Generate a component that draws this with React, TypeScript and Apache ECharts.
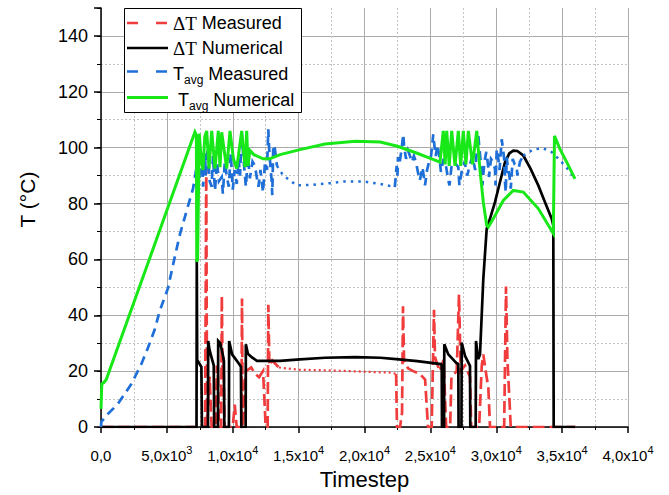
import React, { useEffect, useRef } from "react";
import * as echarts from "echarts";

// ---------- data ----------
const xTickLabels = ["0,0", "5,0x10^3", "1,0x10^4", "1,5x10^4", "2,0x10^4", "2,5x10^4", "3,0x10^4", "3,5x10^4", "4,0x10^4"];
const yTickLabels = ["0", "20", "40", "60", "80", "100", "120", "140"];
const legendNames = ["ΔT Measured", "ΔT Numerical", "Tavg Measured", "Tavg Numerical"];

// ΔT Measured (red, dashed)
const dTMeasSpikes1: number[][] = [
  [0, 0], [7900, 0], [7990, 93], [8050, 0], [8150, 12], [8250, 18], [8350, 5], [8400, 0], [8700, 0], [8800, 22], [8880, 18], [8950, 0],
  [9120, 0], [9170, 47], [9230, 20], [9300, 25], [9380, 0], [10000, 0], [10150, 8], [10300, 0], [10650, 0], [10702, 46], [10760, 0],
  [11000, 20], [11400, 21.3], [11700, 19], [12000, 17.8], [12300, 20], [12500, 0], [12650, 0], [12700, 43.8], [12780, 22], [13000, 23.8], [13500, 21.3],
];
const dTMeasFlat: number[][] = [
  [13500, 21.3], [15000, 20.5], [17000, 20.3], [19000, 20], [21000, 19.6], [22000, 19.5], [22400, 19],
];
const dTMeasSpikes2: number[][] = [
  [22400, 19], [22466, 0], [22700, 0], [22850, 5], [22922, 43.2], [23000, 24], [23300, 21], [23700, 20], [24200, 19], [24600, 17], [24819, 0],
  [25100, 0], [25275, 42], [25350, 25], [25700, 20], [26000, 24], [26200, 0], [26500, 0], [26600, 18], [27000, 20], [27172, 47.4], [27300, 20],
  [27628, 22], [28007, 18], [28100, 0], [28700, 0], [28900, 22], [29017, 26], [29200, 20], [29400, 14], [29525, 0], [30600, 0], [30740, 50.3],
  [30850, 24], [31050, 5], [31100, 0], [36000, 0],
];

// ΔT Numerical (black)
const dTNum: number[][] = [
  [0, 0], [7250, 0], [7270, 60], [7300, 24], [7620, 21.5], [7660, 0], [8120, 0], [8135, 30.8], [8240, 27.5], [8420, 24.4], [8560, 22], [8590, 0],
  [8880, 0], [8895, 30.8], [9050, 30], [9260, 25.5], [9330, 23.5], [9360, 0], [9710, 0], [9725, 30.8], [9950, 26], [10500, 22.5], [10620, 21.5], [10650, 0],
  [10980, 0], [10995, 29.6], [11150, 26.2], [11461, 24.9], [11840, 23.7], [13586, 23.7], [15104, 24.2], [17000, 24.8], [19300, 25], [21200, 24.8],
  [22400, 24.3], [24000, 23.6], [25800, 22.5], [25860, 22.3], [25880, 0], [26040, 0], [26057, 29.6], [26360, 26], [27000, 22.8], [27120, 22.5], [27140, 0],
  [27360, 0], [27377, 30.2], [27628, 25.5], [28007, 21.9], [28030, 0], [28440, 0], [28463, 30.8], [28560, 27], [28637, 24.3], [28766, 26], [28850, 35],
  [29017, 53], [29275, 71], [29525, 74.6], [29905, 80.5], [30284, 87.7], [30664, 94.8], [31000, 98], [31294, 98.9], [31600, 98.8], [32053, 97.2],
  [32600, 92.5], [33191, 86.5], [33700, 80.5], [34208, 74.6], [34330, 72.2], [34360, 0], [36000, 0],
];

// Tavg Measured (blue)
const tAvgMeasNoise1: number[][] = [
  [0, 0], [23, 1.8], [531, 4.7], [1290, 8.3], [2300, 15.4], [3059, 22.5], [3567, 28.4], [4076, 34.9], [4455, 41.5], [5085, 49.7], [5465, 58],
  [5974, 68.7], [6475, 77], [6983, 85.3], [7233, 92.4], [7300, 96], [7450, 88], [7600, 99], [7750, 86], [7894, 98], [7950, 90], [8100, 100],
  [8250, 88], [8402, 86], [8500, 97], [8650, 84.5], [8800, 95], [8950, 88], [9161, 89.5], [9250, 83.5], [9400, 95], [9541, 90], [9700, 86],
  [9850, 98], [10000, 85], [10150, 92], [10300, 87], [10450, 96], [10550, 90], [10679, 105.5], [10760, 99.5], [10850, 94], [11000, 86],
  [11150, 97], [11300, 89], [11500, 95], [11688, 93.5], [11800, 90], [11950, 86], [12100, 92], [12300, 84], [12450, 95], [12600, 92],
  [12698, 106.6], [12750, 100.7], [12850, 94], [12956, 88], [13000, 83], [13077, 101], [13200, 99.5], [13358, 93.5],
];
const tAvgMeasFlat1: number[][] = [
  [13358, 93.5], [13836, 90], [14345, 88.3], [14853, 86.5], [16100, 86.7], [17400, 87.3], [18400, 87.9], [19900, 87.9], [21200, 87], [22300, 85.9],
];
const tAvgMeasNoise2: number[][] = [
  [22300, 85.9], [22443, 93.5], [22500, 90], [22542, 96.6], [22650, 94], [22800, 99], [22944, 104.8], [23000, 100.7], [23150, 96], [23300, 99],
  [23453, 97], [23600, 94.8], [23750, 97], [23900, 95], [24083, 90.6], [24200, 88.3], [24400, 93], [24592, 86.5], [24750, 92], [24900, 95],
  [25050, 97], [25221, 104.8], [25280, 101.9], [25400, 97], [25550, 101], [25730, 94.8], [25800, 91.3], [26000, 96], [26200, 93], [26360, 88.3],
  [26450, 86.5], [26600, 93], [26800, 95], [27120, 93], [27200, 86.5], [27400, 92], [27600, 95], [27800, 90], [28000, 94], [28200, 97],
  [28400, 92], [28637, 104.8], [28700, 100.7], [28800, 96], [28895, 91.3], [28950, 86.5], [29100, 95], [29250, 98.5], [29396, 93], [29450, 89.5],
  [29600, 96], [29750, 95], [29905, 92.4], [29950, 86.5], [30034, 99.5], [30100, 98.4], [30250, 92], [30413, 103], [30480, 100.7], [30600, 96],
  [30664, 87.7], [30720, 84], [30793, 96.6], [30850, 94.2], [31044, 88.3], [31100, 85.3], [31250, 96], [31400, 94], [31553, 93.5], [31600, 90],
  [31802, 95], [32053, 97.1],
];
const tAvgMeasFlat2: number[][] = [
  [32053, 97.1], [32790, 99.3], [33548, 99.8], [34208, 98.4], [34839, 95.5], [35400, 92.5], [35977, 88.8],
];

// Tavg Numerical (green)
const tAvgNum: number[][] = [
  [0, 6.5], [60, 15.4], [230, 16], [400, 17], [7130, 105.6], [7240, 104.5], [7265, 59.2], [7330, 60], [7460, 105], [7600, 96], [7742, 92],
  [7880, 104], [8023, 106], [8197, 92.5], [8402, 106], [8653, 92.5], [8903, 106], [9032, 93], [9161, 105.5], [9541, 92.5], [9791, 106],
  [10050, 96], [10300, 92.5], [10679, 106], [10930, 93], [11059, 106], [11157, 93.5], [11300, 99], [11600, 97.5], [12300, 96], [12800, 96],
  [13600, 97.5], [15100, 99.3], [17000, 101.3], [19300, 102.3], [21200, 102], [22500, 100.5], [24000, 98], [25000, 96.2], [25730, 94.8],
  [25980, 106], [26120, 94], [26240, 106], [26430, 93.5], [26620, 106], [26870, 93.5], [27120, 106], [27300, 93.5], [27500, 106], [27700, 94],
  [27880, 106], [28200, 94], [28520, 106], [28766, 92], [29017, 80.5], [29275, 72.2], [29400, 71.6], [29776, 74.6], [30535, 81.1], [31294, 84.7],
  [32053, 84.1], [33191, 78.2], [34330, 69.3], [34420, 104.2], [34839, 99.5], [35348, 94.8], [35977, 88.8],
];

// ---------- styling ----------
const FONT = "'Liberation Sans', Arial, sans-serif";
const SERIF = "'Liberation Serif', 'Times New Roman', serif";
const RED = "#f03c3c";
const BLACK = "#000000";
const BLUE = "#1f6fd8";
const GREEN = "#18e818";
const GRID_MAJOR = "#ababab";
const GRID_MINOR = "#c4c4c4";

function line(name: string, data: number[][], color: string, width: number, dash: any, z: number) {
  return {
    type: "line",
    name,
    data,
    yAxisIndex: 1,
    showSymbol: false,
    symbol: "none",
    silent: true,
    z,
    lineStyle: { color, width, type: dash, cap: "butt", join: "miter" },
  };
}

export default function App() {
  const ref = useRef<HTMLDivElement>(null);
  useEffect(() => {
    if (!ref.current) return;
    const chart = echarts.init(ref.current, null, { renderer: "svg" });
    const legendY = [23, 48, 71.5, 97.5];
    const legendGraphic: any[] = [
      {
        type: "rect",
        shape: { x: 124.5, y: 8.5, width: 177, height: 104 },
        style: { fill: "#fff", stroke: "#000", lineWidth: 1 },
        z: 100,
      },
      { type: "line", shape: { x1: 127, y1: legendY[0], x2: 168, y2: legendY[0] }, style: { stroke: RED, lineWidth: 2.7, lineDash: [11, 18] }, z: 101 },
      { type: "line", shape: { x1: 127, y1: legendY[1], x2: 168, y2: legendY[1] }, style: { stroke: BLACK, lineWidth: 2.7 }, z: 101 },
      { type: "line", shape: { x1: 127, y1: legendY[2], x2: 168, y2: legendY[2] }, style: { stroke: BLUE, lineWidth: 2.7, lineDash: [11, 18] }, z: 101 },
      { type: "line", shape: { x1: 127, y1: legendY[3], x2: 168, y2: legendY[3] }, style: { stroke: GREEN, lineWidth: 3 }, z: 101 },
    ];
    const legendTexts = [
      "{d|ΔT} Measured",
      "{d|ΔT} Numerical",
      "T{s|avg} Measured",
      "T{s|avg} Numerical",
    ];
    legendTexts.forEach((t, i) => {
      legendGraphic.push({
        type: "text",
        x: i === 3 ? 178 : 173,
        y: legendY[i] + (i >= 2 ? 2 : 0),
        z: 101,
        style: {
          text: t,
          fill: "#000",
          fontSize: 18,
          fontFamily: FONT,
          verticalAlign: "middle",
          lineHeight: 20,
          rich: {
            d: { fontFamily: SERIF, fontSize: 19, lineHeight: 20 },
            s: { fontFamily: FONT, fontSize: 12, verticalAlign: "bottom", lineHeight: 24 },
          },
        },
      });
    });

    const option: any = {
      animation: false,
      backgroundColor: "#fff",
      grid: { left: 101, right: 41, top: 8, bottom: 65, containLabel: false },
      xAxis: {
        type: "value",
        min: 0,
        max: 40000,
        interval: 5000,
        name: "Timestep",
        nameLocation: "middle",
        nameGap: 41,
        nameTextStyle: { fontSize: 22, fontFamily: FONT, color: "#000" },
        axisLine: { show: true, onZero: false, lineStyle: { color: "#000", width: 1.5 } },
        axisTick: { show: true, inside: false, length: 6, lineStyle: { color: "#000", width: 1.5 } },
        minorTick: { show: true, splitNumber: 2, length: 3, lineStyle: { color: "#000", width: 1 } },
        splitLine: { show: true, lineStyle: { color: GRID_MAJOR, width: 1 } },
        minorSplitLine: { show: true, lineStyle: { color: GRID_MINOR, width: 1, type: [2, 2] } },
        axisLabel: {
          margin: 17,
          color: "#000",
          fontFamily: FONT,
          fontSize: 15,
          formatter: (v: number) => {
            const s = xTickLabels[Math.round(v / 5000)] ?? "";
            const [m, e] = s.split("^");
            return e ? `{m|${m}}{e|${e}}` : `{m|${m}}`;
          },
          rich: {
            m: { fontSize: 15, fontFamily: FONT, color: "#000", lineHeight: 22 },
            e: { fontSize: 11, fontFamily: FONT, color: "#000", lineHeight: 22, verticalAlign: "top" },
          },
        },
      },
      yAxis: [
        {
          // minor ticks / minor grid
          type: "value",
          min: 0,
          max: 150,
          interval: 10,
          position: "left",
          axisLine: { show: false },
          axisLabel: { show: false },
          axisTick: { show: true, inside: false, length: 4, lineStyle: { color: "#000", width: 1 } },
          splitLine: { show: true, showMinLine: false, showMaxLine: false, lineStyle: { color: GRID_MINOR, width: 1, type: [2, 2] } },
        },
        {
          type: "value",
          min: 0,
          max: 150,
          interval: 20,
          position: "left",
          name: "T (°C)",
          nameLocation: "middle",
          nameGap: 63,
          nameTextStyle: { fontSize: 21, fontFamily: FONT, color: "#000", padding: [0, 0, 0, 36] },
          axisLine: { show: true, onZero: false, lineStyle: { color: "#000", width: 1.5 } },
          axisTick: { show: true, inside: false, length: 7, lineStyle: { color: "#000", width: 1.5 } },
          splitLine: { show: true, showMaxLine: false, lineStyle: { color: GRID_MAJOR, width: 1 } },
          axisLabel: {
            margin: 13,
            color: "#000",
            fontFamily: FONT,
            fontSize: 18,
            formatter: (v: number) => (v % 20 === 0 && v / 20 < yTickLabels.length ? yTickLabels[v / 20] : ""),
          },
        },
      ],
      series: [
        line(legendNames[0], dTMeasSpikes1, RED, 2.7, [12, 5], 3),
        line(legendNames[0], dTMeasFlat, RED, 2.2, [2, 3], 3),
        line(legendNames[0], dTMeasSpikes2, RED, 2.7, [12, 5], 3),
        line(legendNames[1], dTNum, BLACK, 2.7, "solid", 4),
        line(legendNames[2], tAvgMeasNoise1, BLUE, 2.7, [9, 6], 5),
        line(legendNames[2], tAvgMeasFlat1, BLUE, 2.5, [2.5, 5], 5),
        line(legendNames[2], tAvgMeasNoise2, BLUE, 2.7, [9, 6], 5),
        line(legendNames[2], tAvgMeasFlat2, BLUE, 2.5, [2.5, 5], 5),
        line(legendNames[3], tAvgNum, GREEN, 3, "solid", 6),
      ],
      graphic: legendGraphic,
    };
    chart.setOption(option);
    return () => chart.dispose();
  }, []);
  return (
    <div
      ref={ref}
      style={{ position: "fixed", left: 0, top: 0, width: 669, height: 495, background: "#fff" }}
    />
  );
}
